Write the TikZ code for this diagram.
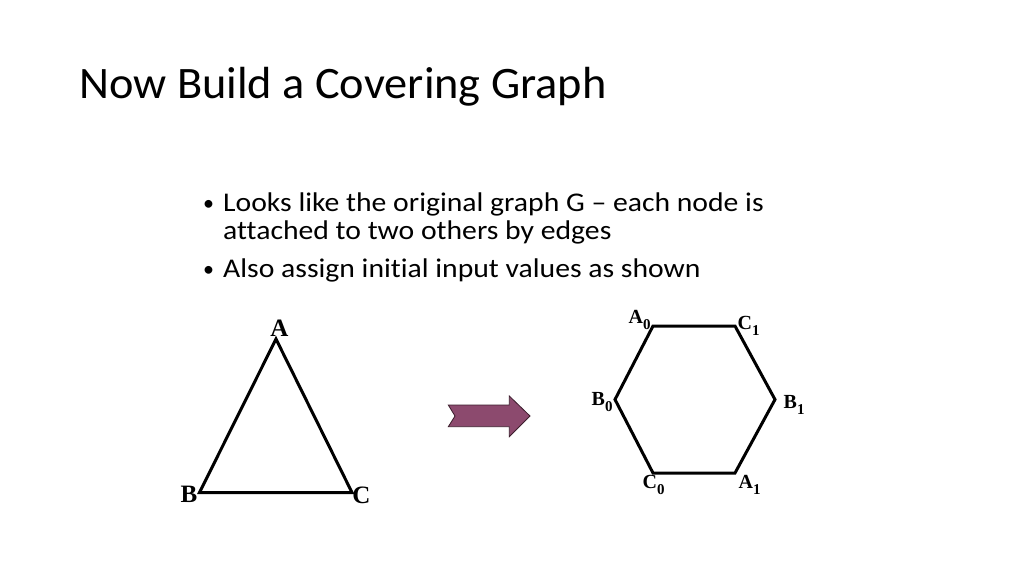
\documentclass[tikz,border=0pt]{standalone}
\usepackage{fontspec}
\setmainfont{Carlito}[Ligatures={NoCommon}]
\newfontfamily\bodyfont{Carlito}[FakeStretch=1.1,Ligatures={NoCommon}]
\newfontfamily\titlefont{Carlito}[FakeStretch=1.03,Ligatures={NoCommon}]
\newfontfamily\tnr{Liberation Serif}
\begin{document}
\begin{tikzpicture}[x=1pt,y=-1pt,
  edge/.style={line width=3pt, line join=miter, black},
  biglab/.style={font=\tnr\bfseries\fontsize{25}{25}\selectfont, inner sep=0pt, anchor=base},
  hexlab/.style={font=\tnr\bfseries\fontsize{20}{20}\selectfont, inner sep=0pt, anchor=base west},
  bodytext/.style={font=\bodyfont\fontsize{27}{32}\selectfont, inner sep=0pt, anchor=base west, text=black},
  bigarrow/.style={fill=arrowfill, draw=arrowdraw, line width=0.8pt, line join=miter}]
\definecolor{arrowfill}{RGB}{140,74,110}
\definecolor{arrowdraw}{RGB}{60,30,45}
\newcommand{\hsub}[2]{#1\raisebox{-0.32em}{\fontsize{15}{15}\selectfont #2}}
\useasboundingbox (0,0) rectangle (1024,576);
\fill[white] (0,0) rectangle (1024,576);

% title
\node[font=\titlefont\fontsize{45}{54}\selectfont, inner sep=0pt, anchor=base west] (title) at (79,98) {Now Build a Covering Graph};

% bullets
\node[bodytext, font=\fontsize{22}{22}\selectfont] (b1) at (203,210) {\textbullet};
\node[bodytext] (l1) at (223,211) {Looks like the original graph G – each node is};
\node[bodytext] (l2) at (223,239.5) {attached to two others by edges};
\node[bodytext, font=\fontsize{22}{22}\selectfont] (b2) at (203,276) {\textbullet};
\node[bodytext] (l3) at (223,277) {Also assign initial input values as shown};

% triangle
\coordinate (A) at (276,339);
\coordinate (B) at (199.5,492.5);
\coordinate (C) at (352,492.5);
\draw[edge] (A) -- (B) -- (C) -- cycle;
\node[biglab] (lA) at (279.5,336) {A};
\node[biglab] (lB) at (189,502.5) {B};
\node[biglab] (lC) at (361.5,503) {C};

% arrow
\draw[bigarrow] (448.3,405) -- (509.3,405) -- (509.3,396) -- (530,416) -- (509.3,436.7)
  -- (509.3,426.7) -- (448.3,426.7) -- (455,416) -- cycle;

% hexagon
\coordinate (A0) at (653,326);
\coordinate (C1) at (735,326);
\coordinate (B1) at (775,399.5);
\coordinate (A1) at (735,473);
\coordinate (C0) at (653,473);
\coordinate (B0) at (615,399.5);
\draw[edge] (A0) -- (C1) -- (B1) -- (A1) -- (C0) -- (B0) -- cycle;
\node[hexlab] (lA0) at (628.5,323) {\hsub{A}{0}};
\node[hexlab] (lC1) at (737.5,329) {\hsub{C}{1}};
\node[hexlab] (lB0) at (591.5,405.5) {\hsub{B}{0}};
\node[hexlab] (lB1) at (783.5,408) {\hsub{B}{1}};
\node[hexlab] (lC0) at (642.5,488) {\hsub{C}{0}};
\node[hexlab] (lA1) at (738.5,488) {\hsub{A}{1}};
\end{tikzpicture}
\end{document}
